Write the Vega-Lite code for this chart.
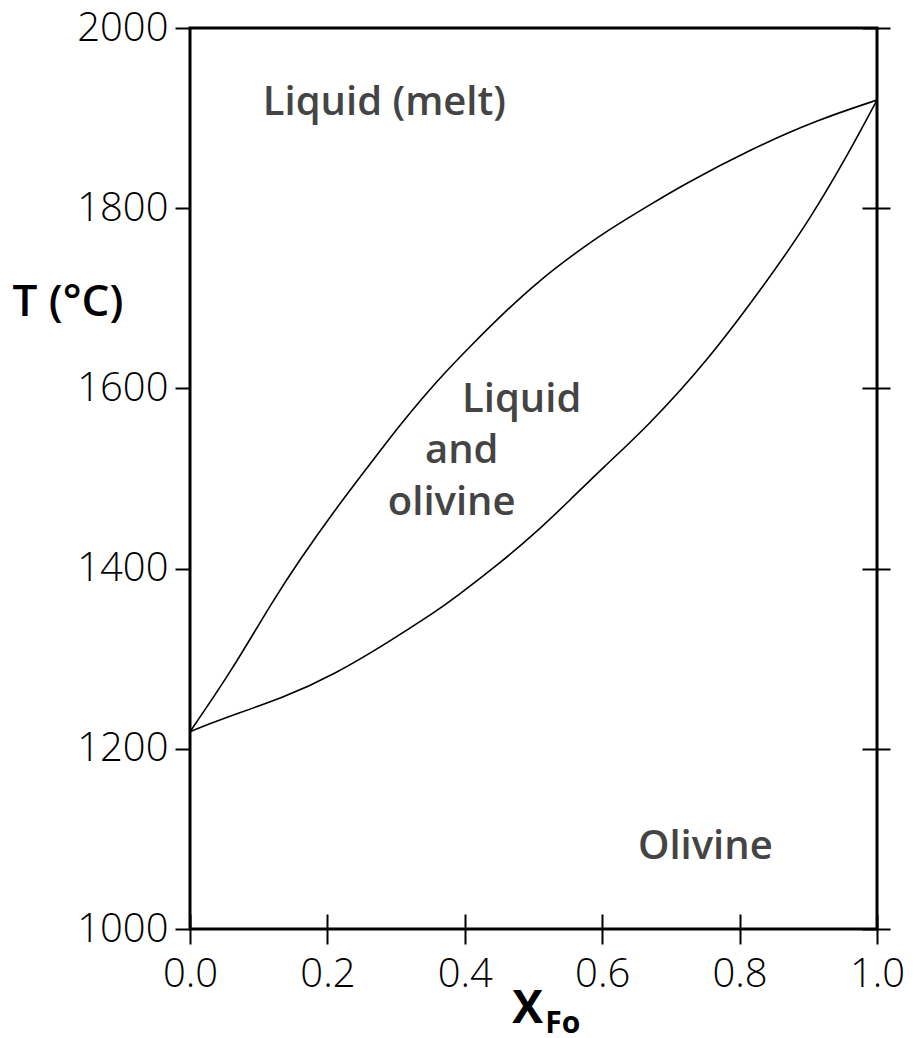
{
  "$schema": "https://vega.github.io/schema/vega-lite/v6.json",
  "width": 687,
  "height": 901,
  "autosize": "none",
  "padding": {"left": 190, "top": 28, "right": 46, "bottom": 109},
  "config": {"view": {"stroke": "black", "strokeWidth": 3}, "font": "Open Sans"},
  "datasets": {
    "curves": [
      {"curve": "liquidus", "x": 0.0, "T": 1219},
      {"curve": "liquidus", "x": 0.061, "T": 1287},
      {"curve": "liquidus", "x": 0.121, "T": 1365},
      {"curve": "liquidus", "x": 0.160, "T": 1410},
      {"curve": "liquidus", "x": 0.208, "T": 1462},
      {"curve": "liquidus", "x": 0.258, "T": 1512},
      {"curve": "liquidus", "x": 0.306, "T": 1560},
      {"curve": "liquidus", "x": 0.360, "T": 1609},
      {"curve": "liquidus", "x": 0.412, "T": 1650},
      {"curve": "liquidus", "x": 0.461, "T": 1687},
      {"curve": "liquidus", "x": 0.509, "T": 1720},
      {"curve": "liquidus", "x": 0.557, "T": 1748},
      {"curve": "liquidus", "x": 0.607, "T": 1775},
      {"curve": "liquidus", "x": 0.670, "T": 1804},
      {"curve": "liquidus", "x": 0.718, "T": 1826},
      {"curve": "liquidus", "x": 0.815, "T": 1865},
      {"curve": "liquidus", "x": 0.913, "T": 1898},
      {"curve": "liquidus", "x": 1.0, "T": 1920},
      {"curve": "solidus", "x": 0.0, "T": 1219},
      {"curve": "solidus", "x": 0.041, "T": 1232},
      {"curve": "solidus", "x": 0.138, "T": 1257},
      {"curve": "solidus", "x": 0.211, "T": 1283},
      {"curve": "solidus", "x": 0.284, "T": 1316},
      {"curve": "solidus", "x": 0.357, "T": 1352},
      {"curve": "solidus", "x": 0.383, "T": 1366},
      {"curve": "solidus", "x": 0.456, "T": 1409},
      {"curve": "solidus", "x": 0.505, "T": 1441},
      {"curve": "solidus", "x": 0.553, "T": 1476},
      {"curve": "solidus", "x": 0.601, "T": 1512},
      {"curve": "solidus", "x": 0.665, "T": 1557},
      {"curve": "solidus", "x": 0.753, "T": 1630},
      {"curve": "solidus", "x": 0.841, "T": 1720},
      {"curve": "solidus", "x": 0.902, "T": 1787},
      {"curve": "solidus", "x": 0.961, "T": 1864},
      {"curve": "solidus", "x": 1.0, "T": 1920}
    ],
    "labels": [
      {"x": 0.106, "T": 1903, "label": "Liquid (melt)"},
      {"x": 0.396, "T": 1574, "label": "Liquid"},
      {"x": 0.342, "T": 1517, "label": "and"},
      {"x": 0.288, "T": 1460, "label": "olivine"},
      {"x": 0.652, "T": 1078, "label": "Olivine"}
    ],
    "sub": [
      {"x": 0.517, "T": 1000, "label": "Fo"}
    ]
  },
  "layer": [
    {
      "data": {"name": "curves"},
      "mark": {"type": "line", "color": "black", "strokeWidth": 1.6, "interpolate": "basis"},
      "encoding": {
        "x": {
          "field": "x", "type": "quantitative",
          "scale": {"domain": [0, 1], "nice": false, "zero": false},
          "axis": {
            "orient": "bottom", "values": [0, 0.2, 0.4, 0.6, 0.8, 1], "format": ".1f",
            "offset": -15, "tickSize": 30, "tickWidth": 2, "tickColor": "black",
            "domain": false, "grid": false,
            "labelFont": "Open Sans", "labelFontWeight": 300, "labelFontSize": 40,
            "labelColor": "black", "labelPadding": 10, "labelFlush": false,
            "title": "X", "titleFont": "Open Sans", "titleFontSize": 46, "titleFontWeight": 700,
            "titleColor": "black", "titleX": 337, "titleY": 108,
            "titleAlign": "center", "titleBaseline": "alphabetic"
          }
        },
        "y": {
          "field": "T", "type": "quantitative",
          "scale": {"domain": [1000, 2000], "nice": false, "zero": false},
          "axis": {
            "orient": "left", "values": [1000, 1200, 1400, 1600, 1800, 2000], "format": "d",
            "tickSize": 15, "tickWidth": 2, "tickColor": "black",
            "domain": false, "grid": false,
            "labelFont": "Open Sans", "labelFontWeight": 300, "labelFontSize": 40,
            "labelColor": "black", "labelPadding": 7, "labelFlush": false,
            "title": "T (°C)", "titleFont": "Open Sans", "titleFontSize": 44, "titleFontWeight": 600,
            "titleColor": "black", "titleAngle": 0, "titleX": -178, "titleY": 287,
            "titleAlign": "left", "titleBaseline": "alphabetic"
          }
        },
        "detail": {"field": "curve", "type": "nominal"}
      }
    },
    {
      "data": {"name": "labels"},
      "mark": {"type": "text", "align": "left", "baseline": "alphabetic", "font": "Open Sans", "fontSize": 40, "fontWeight": 600, "color": "#444444"},
      "encoding": {
        "x": {"field": "x", "type": "quantitative"},
        "y": {
          "field": "T", "type": "quantitative",
          "axis": {
            "orient": "right", "values": [1000, 1200, 1400, 1600, 1800, 2000],
            "offset": -15, "tickSize": 28, "tickWidth": 2, "tickColor": "black",
            "domain": false, "grid": false, "labels": false, "title": null
          }
        },
        "text": {"field": "label"}
      }
    },
    {
      "data": {"name": "sub"},
      "mark": {"type": "text", "align": "left", "baseline": "alphabetic", "font": "Open Sans", "fontSize": 30, "fontWeight": 700, "color": "black", "dy": 104},
      "encoding": {
        "x": {"field": "x", "type": "quantitative"},
        "y": {"field": "T", "type": "quantitative", "axis": null},
        "text": {"field": "label"}
      }
    }
  ],
  "resolve": {"axis": {"y": "independent"}}
}
